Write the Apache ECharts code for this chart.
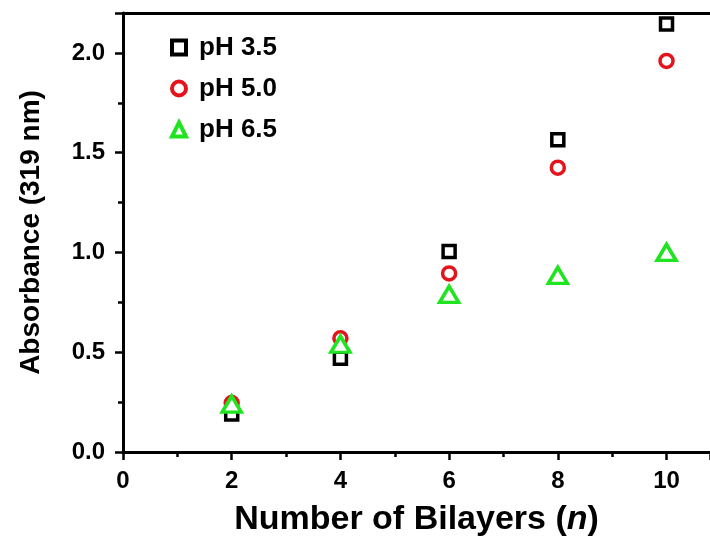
<!DOCTYPE html>
<html>
<head>
<meta charset="utf-8">
<script src="https://cdn.jsdelivr.net/npm/echarts@6/dist/echarts.min.js"></script>
<style>html,body{margin:0;padding:0;background:#fff}#c{width:710px;height:549px}</style>
</head>
<body>
<div id="c"></div>
<script>
const bilayers = [2, 4, 6, 8, 10];
const ph35 = [0.19, 0.47, 1.005, 1.565, 2.145];
const ph50 = [0.245, 0.57, 0.895, 1.425, 1.96];
const ph65 = [0.24, 0.54, 0.79, 0.885, 1.0];
const seriesNames = ['pH 3.5', 'pH 5.0', 'pH 6.5'];
const yTickLabels = ['0.0', '0.5', '1.0', '1.5', '2.0'];
const xTickLabels = ['0', '2', '4', '6', '8', '10'];

const font = 'Liberation Sans, Arial, sans-serif';
const pairs = v => bilayers.map((x, i) => [x, v[i]]);
const colors = ['#000000', '#e3141c', '#1fe41f'];

const chart = echarts.init(document.getElementById('c'));
chart.setOption({
  animation: false,
  backgroundColor: '#fff',
  grid: { left: 123, top: 13, right: 0, height: 439 },
  legend: {
    left: 165, top: 29, orient: 'vertical', itemGap: 14,
    itemWidth: 14, itemHeight: 14,
    textStyle: { fontFamily: font, fontWeight: 'bold', fontSize: 26, lineHeight: 27, color: '#000', padding: [0, 0, 0, 8] },
    data: seriesNames.map((n, i) => ({ name: n, itemStyle: { color: '#fff', borderColor: colors[i], borderWidth: 4, opacity: 1 } }))
  },
  xAxis: [{
    type: 'value', min: 0, max: 10.8, interval: 2,
    name: '{b|Number of Bilayers (}{i|n}{b|)}',
    nameLocation: 'middle', nameGap: 51,
    nameTextStyle: {
      rich: {
        b: { fontFamily: font, fontWeight: 'bold', fontSize: 34, color: '#000' },
        i: { fontFamily: font, fontWeight: 'bold', fontStyle: 'italic', fontSize: 34, color: '#000' }
      }
    },
    axisLine: { show: true, onZero: false, lineStyle: { color: '#000', width: 3 } },
    axisTick: { show: true, length: 8, lineStyle: { color: '#000', width: 2.5 } },
    minorTick: { show: true, splitNumber: 2, length: 5, lineStyle: { color: '#000', width: 2.5 } },
    axisLabel: { fontFamily: font, fontWeight: 'bold', fontSize: 24, color: '#000', margin: 17,
      showMaxLabel: false,
      formatter: v => { const i = xTickLabels.indexOf(String(v)); return i >= 0 ? xTickLabels[i] : ''; } },
    splitLine: { show: false }
  }, {
    type: 'value', min: 0, max: 10.8, position: 'top',
    axisLine: { show: true, onZero: false, lineStyle: { color: '#000', width: 3 } },
    axisTick: { show: false }, axisLabel: { show: false }, splitLine: { show: false }
  }],
  yAxis: {
    type: 'value', min: 0, max: 2.2, interval: 0.5,
    name: 'Absorbance (319 nm)', nameLocation: 'middle', nameGap: 78,
    nameTextStyle: { fontFamily: font, fontWeight: 'bold', fontSize: 28, color: '#000' },
    axisLine: { show: true, onZero: false, lineStyle: { color: '#000', width: 3 } },
    axisTick: { show: true, length: 8, lineStyle: { color: '#000', width: 2.5 } },
    minorTick: { show: true, splitNumber: 2, length: 5, lineStyle: { color: '#000', width: 2.5 } },
    axisLabel: { fontFamily: font, fontWeight: 'bold', fontSize: 24, color: '#000', margin: 18,
      showMaxLabel: false,
      formatter: v => { const i = Math.round(v / 0.5); return (Math.abs(v - i * 0.5) < 1e-6 && yTickLabels[i]) ? yTickLabels[i] : ''; } },
    splitLine: { show: false }
  },
  series: [
    { name: seriesNames[0], type: 'scatter', data: pairs(ph35), symbol: 'rect', symbolSize: 12,
      itemStyle: { color: '#fff', borderColor: colors[0], borderWidth: 3.5, opacity: 1 }, z: 2 },
    { name: seriesNames[1], type: 'scatter', data: pairs(ph50), symbol: 'circle', symbolSize: 13,
      itemStyle: { color: '#fff', borderColor: colors[1], borderWidth: 3.5, opacity: 1 }, z: 3 },
    { name: seriesNames[2], type: 'scatter', data: pairs(ph65), symbol: 'triangle', symbolSize: [19, 16],
      itemStyle: { color: '#fff', borderColor: colors[2], borderWidth: 3.5, opacity: 1 }, z: 4 }
  ]
});
</script>
</body>
</html>
